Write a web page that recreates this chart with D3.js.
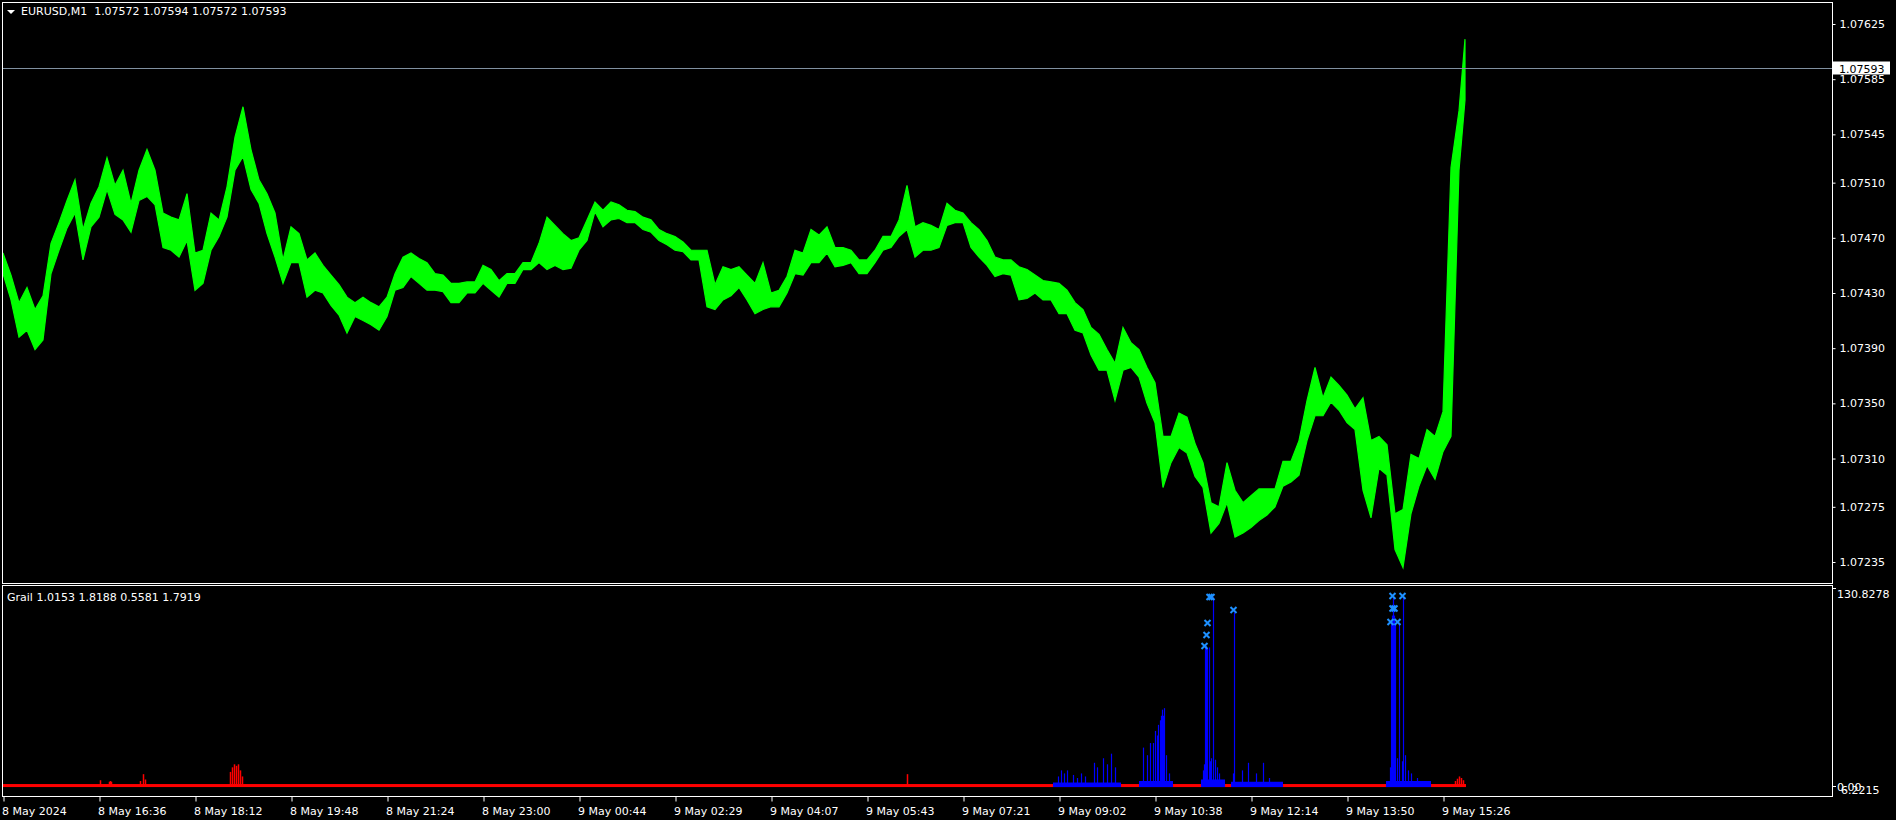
<!DOCTYPE html>
<html><head><meta charset="utf-8">
<script src="https://cdn.jsdelivr.net/npm/d3@7"></script>
<style>html,body{margin:0;padding:0;background:#000;overflow:hidden}text{white-space:pre}</style>
</head><body><svg id="c" width="1896" height="820"></svg>
<script>
// ---------- data ----------
const symbolTitle = "EURUSD,M1";
const lastOHLC = [1.07572, 1.07594, 1.07572, 1.07593];
const currentPrice = 1.07593;
const timeLabels = ["8 May 2024","8 May 16:36","8 May 18:12","8 May 19:48","8 May 21:24","8 May 23:00",
  "9 May 00:44","9 May 02:29","9 May 04:07","9 May 05:43","9 May 07:21","9 May 09:02","9 May 10:38",
  "9 May 12:14","9 May 13:50","9 May 15:26"];
const timeLabelBars = [0,96,192,288,384,480,576,672,768,864,960,1056,1152,1248,1344,1440];
const priceTicks = [1.07625,1.07585,1.07545,1.07510,1.07470,1.07430,1.07390,1.07350,1.07310,1.07275,1.07235];
const lastBar = 1462;
const sampleStep = 8; // one high/low pair per 8 one-minute bars
const priceHigh = [1.07459,1.07443,1.07423,1.07434,1.07418,1.07428,1.07466,1.07481,1.07497,1.07512,
 1.07476,1.07495,1.07507,1.07528,1.07508,1.07519,1.07495,1.07519,1.07534,1.07519,
 1.07488,1.07485,1.07483,1.07502,1.07459,1.07461,1.07488,1.07483,1.07507,1.07543,
 1.07565,1.07534,1.07512,1.07502,1.07488,1.07454,1.07478,1.07473,1.07454,1.07459,
 1.07450,1.07443,1.07436,1.07427,1.07423,1.07427,1.07423,1.07420,1.07427,1.07444,
 1.07456,1.07459,1.07455,1.07452,1.07444,1.07443,1.07437,1.07437,1.07438,1.07438,
 1.07450,1.07447,1.07439,1.07444,1.07444,1.07452,1.07452,1.07466,1.07485,1.07479,
 1.07473,1.07468,1.07470,1.07483,1.07496,1.07490,1.07496,1.07494,1.07490,1.07489,
 1.07485,1.07483,1.07476,1.07473,1.07471,1.07467,1.07461,1.07461,1.07461,1.07436,
 1.07449,1.07447,1.07449,1.07443,1.07437,1.07452,1.07430,1.07432,1.07442,1.07461,
 1.07459,1.07476,1.07472,1.07478,1.07463,1.07463,1.07461,1.07454,1.07454,1.07461,
 1.07471,1.07471,1.07483,1.07508,1.07478,1.07481,1.07479,1.07476,1.07495,1.07490,
 1.07488,1.07481,1.07476,1.07468,1.07456,1.07454,1.07454,1.07449,1.07447,1.07443,
 1.07439,1.07438,1.07437,1.07432,1.07423,1.07418,1.07405,1.07400,1.07389,1.07379,
 1.07405,1.07394,1.07389,1.07376,1.07365,1.07326,1.07326,1.07343,1.07340,1.07321,
 1.07307,1.07278,1.07275,1.07307,1.07287,1.07278,1.07283,1.07288,1.07288,1.07288,
 1.07308,1.07308,1.07323,1.07352,1.07376,1.07354,1.07369,1.07363,1.07356,1.07346,
 1.07354,1.07323,1.07326,1.07320,1.07270,1.07273,1.07313,1.07310,1.07331,1.07326,
 1.07344,1.07521,1.07562,1.07614];
const priceLow = [1.07444,1.07425,1.07398,1.07403,1.07389,1.07396,1.07444,1.07461,1.07477,1.07488,
 1.07454,1.07478,1.07485,1.07505,1.07487,1.07483,1.07474,1.07497,1.07500,1.07494,
 1.07463,1.07461,1.07456,1.07468,1.07432,1.07437,1.07461,1.07471,1.07485,1.07519,
 1.07529,1.07505,1.07495,1.07473,1.07456,1.07437,1.07452,1.07452,1.07427,1.07432,
 1.07430,1.07421,1.07414,1.07401,1.07413,1.07410,1.07407,1.07403,1.07413,1.07432,
 1.07434,1.07442,1.07437,1.07432,1.07432,1.07431,1.07423,1.07423,1.07430,1.07430,
 1.07437,1.07432,1.07427,1.07437,1.07437,1.07447,1.07447,1.07452,1.07447,1.07450,
 1.07447,1.07448,1.07461,1.07468,1.07489,1.07478,1.07483,1.07484,1.07481,1.07481,
 1.07476,1.07474,1.07468,1.07465,1.07461,1.07460,1.07454,1.07454,1.07420,1.07418,
 1.07425,1.07428,1.07434,1.07425,1.07415,1.07418,1.07420,1.07420,1.07430,1.07444,
 1.07443,1.07452,1.07452,1.07459,1.07449,1.07450,1.07452,1.07444,1.07444,1.07452,
 1.07461,1.07463,1.07471,1.07476,1.07456,1.07461,1.07461,1.07463,1.07479,1.07481,
 1.07481,1.07463,1.07456,1.07450,1.07442,1.07444,1.07443,1.07425,1.07426,1.07430,
 1.07425,1.07425,1.07415,1.07415,1.07403,1.07401,1.07385,1.07374,1.07374,1.07352,
 1.07374,1.07376,1.07369,1.07350,1.07336,1.07289,1.07307,1.07318,1.07314,1.07297,
 1.07289,1.07256,1.07263,1.07278,1.07253,1.07256,1.07260,1.07265,1.07269,1.07275,
 1.07290,1.07293,1.07298,1.07323,1.07341,1.07341,1.07351,1.07345,1.07336,1.07331,
 1.07287,1.07267,1.07303,1.07298,1.07244,1.07231,1.07270,1.07290,1.07305,1.07295,
 1.07315,1.07326,1.07519,1.07570];

// indicator ("Grail")
const indName = "Grail";
const indReadout = [1.0153, 1.8188, 0.5581, 1.7919];
const indRange = [-6.2215, 130.8278];
const indAxisLabels = ["130.8278", "0.00", "6.2215"];
const redBaseLevel = 1.0;
const redBarIdx = [97,106,107,108,137,140,142,227,229,231,233,235,237,239,904,1452,1454,1456,1458,1460];
const redBarVal = [3.5,2.5,3.0,2.5,3.0,7.5,4.0,9.0,12.0,14.0,13.0,14.0,10.0,6.0,7.5,3.0,4.5,6.0,5.0,3.5];
const blueSegStart = [1050,1136,1198,1228,1383];
const blueSegEnd   = [1118,1170,1222,1280,1428];
const blueSegVal   = [2.0,3.0,4.0,2.5,3.0];
const blueBarIdx = [1055,1058,1061,1064,1070,1074,1078,1082,1091,1094,1100,1104,1108,1112,
  1140,1144,1147,1150,1152,1154,1155,1157,1158,1159,1160,1161,1163,1166,
  1200,1201,1202,1203,1204,1206,1207,1208,1210,1212,1214,1216,
  1230,1231,1239,1245,1253,1260,1266,
  1387,1388,1389,1390,1391,1392,1394,1396,1399,1400,1402,1405,1408,1414];
const blueBarVal = [6,10,8,10,7,5,8,6,15,12,18,14,21,12,
  25,20,28,28,36,33,40,43,46,50,46,51,20,8,
  10,14,91,92,90,91,16,18,124,17,12,8,
  8,114,10,15,8,15,5,
  12,107,112,124,112,107,18,107,16,124,20,10,8,5];
const xMarkIdx = [1201,1203,1204,1206,1208,1230,1387,1389,1391,1389,1394,1399];
const xMarkVal = [91.9,99.2,107.1,124.2,124.2,115.7,107.8,116.7,116.7,124.9,107.8,124.9];

// ---------- drawing ----------
const svg = d3.select("#c");
const FONT = "DejaVu Sans";
const P = {x0: 2, x1: 1832, y0: 2, y1: 583, iy0: 585, iy1: 796};

svg.append("rect").attr("width",1896).attr("height",820).attr("fill","#000");

const x = d3.scaleLinear().domain([0, lastBar]).range([3, 3 + lastBar]);
const y = d3.scaleLinear().domain([1.07235, 1.07625]).range([562, 24]);
const yi = d3.scaleLinear().domain(indRange).range([795, 587]);

svg.append("clipPath").attr("id","mainclip").append("rect")
  .attr("x",P.x0).attr("y",P.y0).attr("width",P.x1-P.x0).attr("height",P.y1-P.y0);
svg.append("clipPath").attr("id","indclip").append("rect")
  .attr("x",P.x0).attr("y",P.iy0).attr("width",P.x1-P.x0).attr("height",P.iy1-P.iy0);

// price: high/low envelope of each 8-bar bucket
const pts = priceHigh.map((h,i)=>({i: Math.min(i*sampleStep, lastBar), h, l: priceLow[i]}));
const area = d3.area().x(d=>x(d.i)).y0(d=>y(d.l)).y1(d=>y(d.h));
const gMain = svg.append("g").attr("clip-path","url(#mainclip)");
gMain.append("path").datum(pts).attr("d",area)
  .attr("fill","#00FF00").attr("stroke","#00FF00").attr("stroke-width",1.2);

// current price line
gMain.append("line").attr("x1",P.x0).attr("x2",P.x1)
  .attr("y1",Math.round(y(currentPrice))+0.5).attr("y2",Math.round(y(currentPrice))+0.5)
  .attr("stroke","#8090A0").attr("stroke-width",1);

// indicator
const gInd = svg.append("g").attr("clip-path","url(#indclip)");
gInd.append("rect").attr("x",x(0)).attr("width",x(lastBar)-x(0)+1)
  .attr("y",yi(redBaseLevel)).attr("height",yi(0)+1.5-yi(redBaseLevel)).attr("fill","#FF0000");
gInd.selectAll("line.red").data(redBarIdx).join("line").attr("class","red")
  .attr("x1",d=>x(d)+0.5).attr("x2",d=>x(d)+0.5)
  .attr("y1",yi(0)).attr("y2",(d,i)=>yi(redBarVal[i])).attr("stroke","#FF0000").attr("stroke-width",1.5);
gInd.selectAll("rect.bseg").data(blueSegStart).join("rect").attr("class","bseg")
  .attr("x",d=>x(d)).attr("width",(d,i)=>x(blueSegEnd[i])-x(d))
  .attr("y",(d,i)=>yi(blueSegVal[i])).attr("height",(d,i)=>yi(0)+1.5-yi(blueSegVal[i])).attr("fill","#0000FF");
gInd.selectAll("line.blue").data(blueBarIdx).join("line").attr("class","blue")
  .attr("x1",d=>x(d)+0.5).attr("x2",d=>x(d)+0.5)
  .attr("y1",yi(0)+1).attr("y2",(d,i)=>yi(blueBarVal[i])).attr("stroke","#0000FF").attr("stroke-width",1.2);
gInd.selectAll("path.xm").data(xMarkIdx).join("path").attr("class","xm")
  .attr("transform",(d,i)=>`translate(${x(d)+0.5},${yi(xMarkVal[i])})`)
  .attr("d","M-3,-3L3,3M-3,3L3,-3").attr("stroke","#1E90FF").attr("stroke-width",2).attr("fill","none");

// frames
svg.append("rect").attr("x",P.x0+0.5).attr("y",P.y0+0.5).attr("width",P.x1-P.x0).attr("height",P.y1-P.y0)
  .attr("fill","none").attr("stroke","#fff");
svg.append("rect").attr("x",P.x0+0.5).attr("y",P.iy0+0.5).attr("width",P.x1-P.x0).attr("height",P.iy1-P.iy0)
  .attr("fill","none").attr("stroke","#fff");

// price axis
const ay = svg.append("g").attr("transform",`translate(${P.x1+0.5},0)`)
  .call(d3.axisRight(y).tickValues(priceTicks).tickFormat(d3.format(".5f")).tickSize(3).tickPadding(4));
ay.select(".domain").remove();
ay.selectAll("line").attr("stroke","#fff");
ay.selectAll("text").attr("fill","#fff").attr("font-family",FONT).attr("font-size",11);

// current price tag
const cy = Math.round(y(currentPrice));
svg.append("rect").attr("x",P.x1+1).attr("y",cy-6.5).attr("width",57).attr("height",13).attr("fill","#fff");
svg.append("text").attr("x",P.x1+7).attr("y",cy+4.5).attr("fill","#000")
  .attr("font-family",FONT).attr("font-size",11).text(d3.format(".5f")(currentPrice));

// time axis
const ax = svg.append("g").attr("transform",`translate(0.5,${P.iy1+0.5})`)
  .call(d3.axisBottom(x).tickValues(timeLabelBars).tickFormat((d,i)=>timeLabels[i]).tickSize(5).tickPadding(6));
ax.select(".domain").remove();
ax.selectAll("line").attr("stroke","#fff");
ax.selectAll("text").attr("fill","#fff").attr("font-family",FONT).attr("font-size",11)
  .attr("text-anchor","start").attr("dx","-2");

// indicator axis labels
const indLab = svg.append("g").attr("font-family",FONT).attr("font-size",11).attr("fill","#fff");
indLab.append("line").attr("x1",P.x1).attr("x2",P.x1+4).attr("y1",588.5).attr("y2",588.5).attr("stroke","#fff");
indLab.append("line").attr("x1",P.x1).attr("x2",P.x1+4).attr("y1",Math.round(yi(0))+0.5).attr("y2",Math.round(yi(0))+0.5).attr("stroke","#fff");
indLab.append("text").attr("x",P.x1+5).attr("y",598).text(indAxisLabels[0]);
indLab.append("text").attr("x",P.x1+5).attr("y",yi(0)+5).text(indAxisLabels[1]);
indLab.append("text").attr("x",P.x1+9).attr("y",yi(0)+8).text(indAxisLabels[2]);

// titles
svg.append("path").attr("d","M7,10L15,10L11,14Z").attr("fill","#fff");
svg.append("text").attr("x",21).attr("y",15).attr("fill","#fff").attr("font-family",FONT).attr("font-size",11)
  .text(symbolTitle + "  " + lastOHLC.map(d3.format(".5f")).join(" "));
svg.append("text").attr("x",7).attr("y",601).attr("fill","#fff").attr("font-family",FONT).attr("font-size",11)
  .text(indName + " " + indReadout.map(d3.format(".4f")).join(" "));
</script></body></html>
